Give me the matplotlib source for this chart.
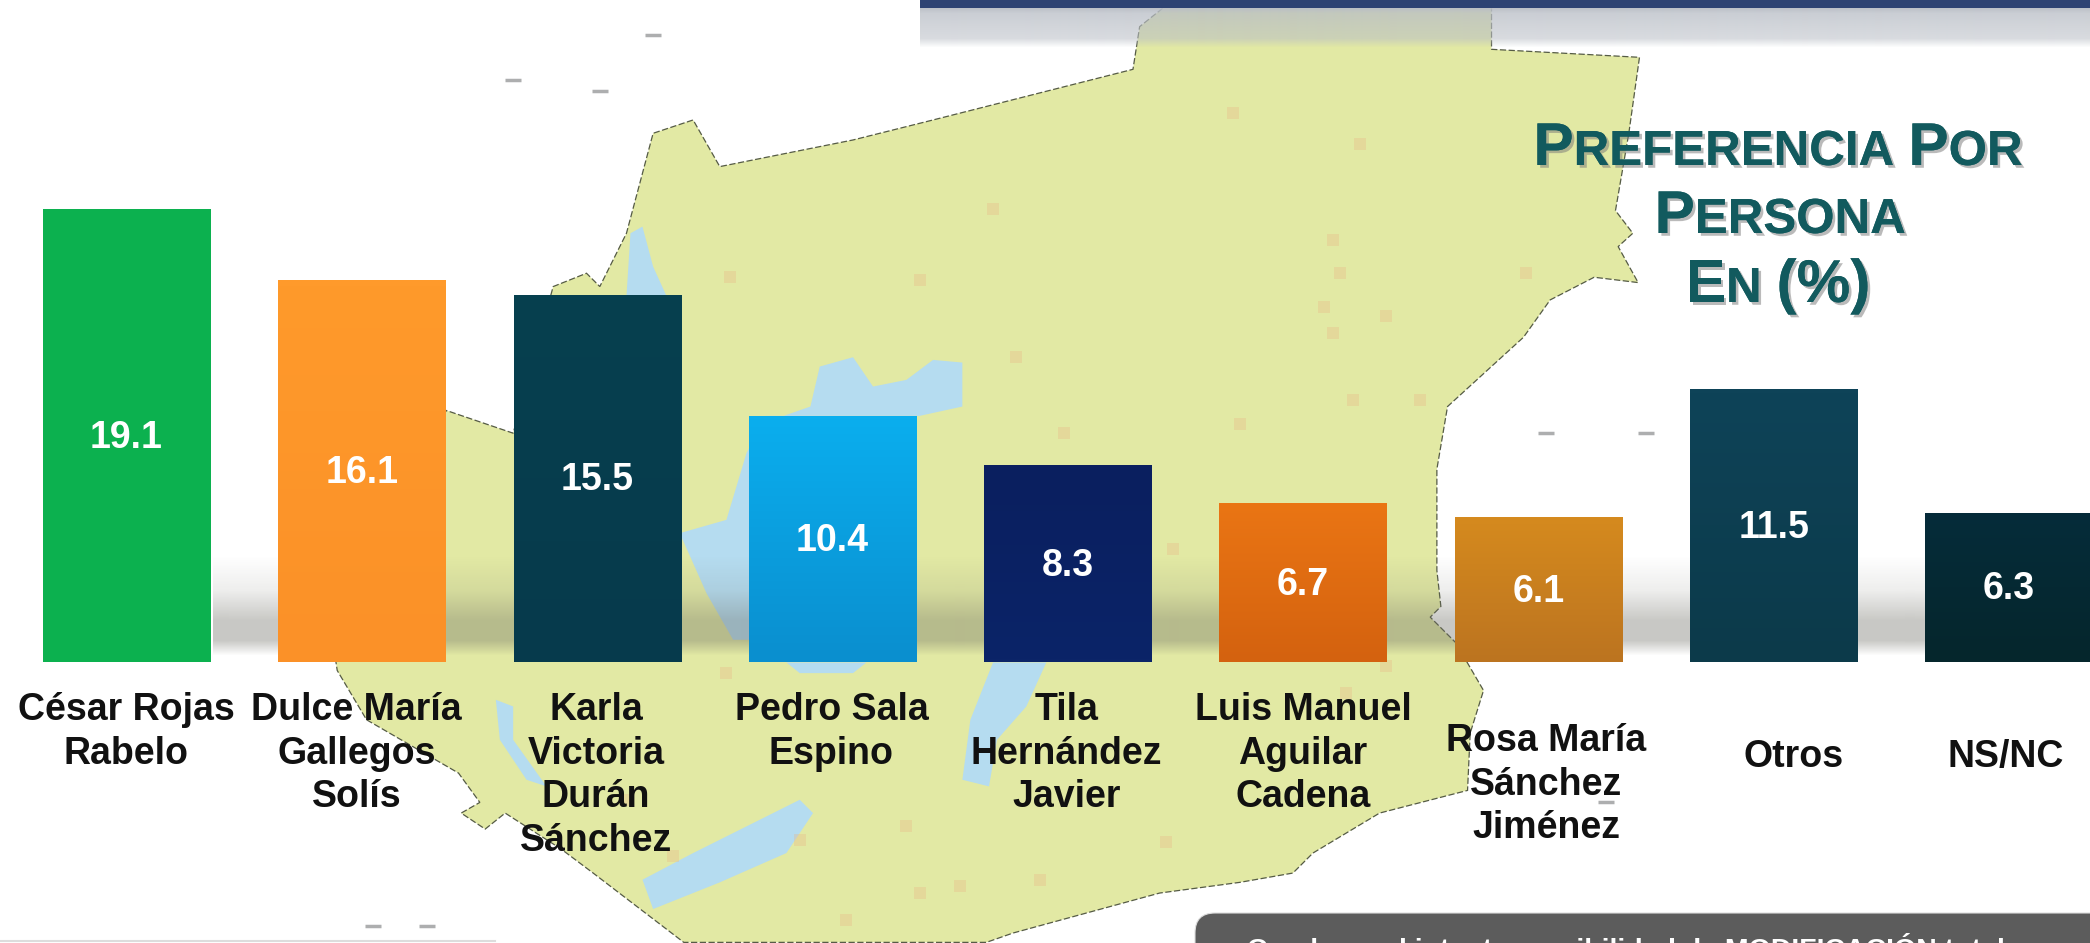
import numpy as np
import matplotlib
matplotlib.use('Agg')
import matplotlib.pyplot as plt
from matplotlib.colors import LinearSegmentedColormap, to_rgb
from matplotlib.patches import FancyBboxPatch, Polygon, Rectangle
import matplotlib.patheffects as pe

#chart data
names = ['César Rojas\nRabelo', 'Dulce María\nGallegos\nSolís', 'Karla\nVictoria\nDurán\nSánchez',
         'Pedro Sala\nEspino', 'Tila\nHernández\nJavier', 'Luis Manuel\nAguilar\nCadena',
         'Rosa María\nSánchez\nJiménez', 'Otros', 'NS/NC']
values = [19.1, 16.1, 15.5, 10.4, 8.3, 6.7, 6.1, 11.5, 6.3]
colors_top = ['#0cb14f', '#ff9a2b', '#06404f', '#0aaeee', '#0a1f5f', '#ea7514', '#d58a1e', '#0e4358', '#062c3a']
colors_bottom = ['#0cb14f', '#fb9128', '#063a4c', '#0a8fcf', '#0b2468', '#d4620f', '#bc7420', '#0c3a4a', '#05262c']

#label placement: horizontal shift from the bar centre and top of the text, in pixels
label_shift = [0, -5, -1, -1, -1, 0, 8, 20, -3]
label_top = [692, 692, 692, 692, 692, 692, 723, 739, 739]

title_lines = [[('P', 'big'), ('REFERENCIA', 'small'), (' ', 'gap'), ('P', 'big'), ('OR', 'small')],
               [('P', 'big'), ('ERSONA', 'small')],
               [('E', 'big'), ('N', 'small'), (' ', 'gap'), ('(%)', 'big')]]
title_baselines = [165, 233, 302]
footer_text = 'Con base al intento, posibilidad de MODIFICACIÓN total'

#background map in the coordinates of the shrunk view
map_outline = [(880, 0), (1119, 0), (1119, 37), (1230, 43), (1222, 100), (1212, 158), (1225, 175), (1214, 185),
               (1229, 212), (1196, 208), (1163, 225), (1143, 253), (1086, 305), (1078, 352), (1078, 428),
               (1081, 455), (1073, 463), (1092, 482), (1113, 518), (1103, 550), (1101, 593), (1035, 610),
               (985, 640), (970, 655), (930, 662), (870, 670), (760, 700), (740, 707), (513, 707), (445, 655),
               (421, 637), (379, 610), (364, 622), (346, 610), (360, 602), (344, 580), (275, 540), (253, 503),
               (248, 470), (300, 350), (335, 308), (385, 325), (415, 215), (440, 205), (450, 215), (470, 175),
               (490, 100), (520, 90), (540, 125), (640, 105), (700, 90), (850, 52), (855, 20)]
water_shapes = [[(473, 175), (482, 170), (490, 200), (500, 222), (470, 222)],
                [(615, 275), (640, 268), (655, 290), (680, 285), (700, 270), (722, 272), (722, 305), (690, 312),
                 (575, 312), (560, 340), (545, 390), (510, 400), (530, 445), (550, 480), (565, 480), (565, 320),
                 (608, 305)],
                [(745, 497), (785, 497), (770, 530), (748, 555), (742, 590), (722, 585), (728, 540)],
                [(600, 600), (560, 620), (520, 640), (482, 660), (490, 682), (540, 662), (590, 640), (610, 610)],
                [(372, 525), (385, 530), (385, 555), (410, 590), (395, 585), (375, 555)],
                [(590, 497), (650, 497), (640, 505), (600, 505)]]
town_x = [548, 690, 745, 762, 798, 880, 1000, 1005, 993, 1040, 1015, 1065, 1020, 925, 930, 1145, 545, 470, 505, 600,
          680, 720, 780, 875, 1010, 1040, 690, 635, 1000]
town_y = [208, 210, 157, 268, 325, 412, 180, 205, 230, 237, 300, 300, 108, 85, 318, 205, 505, 600, 642, 630, 620, 665,
          660, 632, 520, 500, 670, 690, 250]
mark_x = [490, 450, 385, 1160, 1235, 280, 320, 1205]
mark_y = [26, 68, 60, 325, 325, 695, 695, 602]

fig_w, fig_h = 2090, 943
view_scale = fig_w / 1568
bar_step = 235.3
first_bar = 126.5
px_per_unit = 23.7
zero_y = 662

fig = plt.figure(figsize=(fig_w / 100, fig_h / 100), dpi=100)
plt.rcParams['font.family'] = ['Liberation Sans', 'DejaVu Sans']

#background axes in pixel coordinates, y going down
bg = fig.add_axes([0, 0, 1, 1], zorder=0)
bg.set_xlim(0, fig_w)
bg.set_ylim(fig_h, 0)
bg.axis('off')

def scaled(points):
    return [(x * view_scale, y * view_scale) for x, y in points]

bg.add_patch(Polygon(scaled(map_outline), closed=True, facecolor='#e2e9a4', edgecolor='#555b45', lw=0.9, ls=(0, (5, 2)), zorder=1))
for shape in water_shapes:
    bg.add_patch(Polygon(scaled(shape), closed=True, facecolor='#b5dcf0', edgecolor='none', zorder=2))
bg.scatter(np.array(town_x) * view_scale, np.array(town_y) * view_scale, s=70, marker='s', color='#e8b98a', alpha=0.35, lw=0, zorder=3)
bg.scatter(np.array(mark_x) * view_scale, np.array(mark_y) * view_scale, s=130, marker='_', color='#77787a', alpha=0.6, lw=2.5, zorder=3)
bg.plot([0, 495], [941, 941], color='#dddddd', lw=1.5, zorder=3)

#grey shadow band behind the bars, soft above and cut quickly above the bar foot
band_y = np.arange(105)
shadow = np.zeros((105, 2, 4))
shadow[:, :, :3] = to_rgb('#6f6f66')
shadow[:, :, 3] = np.interp(band_y, [0, 35, 65, 85, 100], [0, 0.12, 0.38, 0.38, 0])[:, None]
bg.imshow(shadow, extent=[213, 1926, 660, 555], aspect='auto', zorder=4, interpolation='bilinear')

#header bar and the soft shadow under it
shade = np.zeros((40, 2, 4))
shade[:, :, :3] = to_rgb('#b9bec6')
shade[:, :, 3] = np.interp(np.arange(40), [0, 5, 30, 39], [0.95, 0.75, 0.55, 0])[:, None]
bg.imshow(shade, extent=[920, fig_w, 48, 8], aspect='auto', zorder=4, interpolation='bilinear')
bg.add_patch(Rectangle((920, 0), fig_w - 920, 8, facecolor='#2d4373', edgecolor='none', zorder=5))
bg.set_xlim(0, fig_w)
bg.set_ylim(fig_h, 0)

#footer box, cut by the lower edge of the picture
bg.add_patch(FancyBboxPatch((1212, 930), 1000, 60, boxstyle='round,pad=17,rounding_size=20', facecolor='#5c5c5c', edgecolor='#dddddd', lw=0.8, zorder=5))
bg.text(1247, 933, footer_text, color='white', fontsize=20.5, fontweight='bold', va='top', ha='left', zorder=6)

#title in small capitals: each run is measured and placed after the previous one
title_sizes = {'big': 43.5, 'small': 35.5}
title_centers = [1778, 1780, 1778]
renderer = fig.canvas.get_renderer()
for line, baseline, center in zip(title_lines, title_baselines, title_centers):
    pieces = []
    width = 0
    for run, kind in line:
        if kind == 'gap':
            pieces.append(None)
            width += 15
            continue
        t = bg.text(0, baseline, run, fontsize=title_sizes[kind], fontweight='bold', color='#125a5e', ha='left', va='baseline', zorder=7,
                    path_effects=[pe.withSimplePatchShadow(offset=(2, -2), shadow_rgbFace='#777777', alpha=0.5), pe.Normal()])
        w = t.get_window_extent(renderer).width
        pieces.append((t, w))
        width += w
    x = center - width / 2
    for piece in pieces:
        if piece is None:
            x += 15
        else:
            piece[0].set_x(x)
            x += piece[1]

#bar axes on top, the value axis keeps 23.7 pixels per percentage point
ax = fig.add_axes([0, 0, 1, 1], zorder=1)
ax.patch.set_alpha(0)
positions = np.arange(len(values))
x_min = -first_bar / bar_step
x_max = (fig_w - first_bar) / bar_step
y_min = -(fig_h - zero_y) / px_per_unit
y_max = zero_y / px_per_unit

bars = ax.bar(positions, values, width=0.71, color=colors_top, edgecolor='none', zorder=2)
for bar, top, bottom in zip(bars, colors_top, colors_bottom):
    cmap = LinearSegmentedColormap.from_list('bar', [top, bottom])
    im = ax.imshow(np.linspace(0, 1, 64).reshape(-1, 1), cmap=cmap, aspect='auto', zorder=2.5,
                   extent=[bar.get_x(), bar.get_x() + bar.get_width(), 0, bar.get_height()])
    im.set_clip_path(bar)

for pos, value in zip(positions, values):
    ax.annotate(f'{value:.1f}', (pos, value / 2), xytext=(0, -1.5), textcoords='offset points', color='white',
                fontsize=27, fontweight='bold', ha='center', va='center', zorder=3)

ax.set_xlim(x_min, x_max)
ax.set_ylim(y_min, y_max)
ax.axis('off')

for pos, name, shift, top in zip(positions, names, label_shift, label_top):
    bg.text(first_bar + pos * bar_step + shift, top, name, color='#111111', fontsize=27, fontweight='bold',
            ha='center', va='top', linespacing=1.27, multialignment='center', zorder=8)

fig.savefig('out.png', dpi=100)
